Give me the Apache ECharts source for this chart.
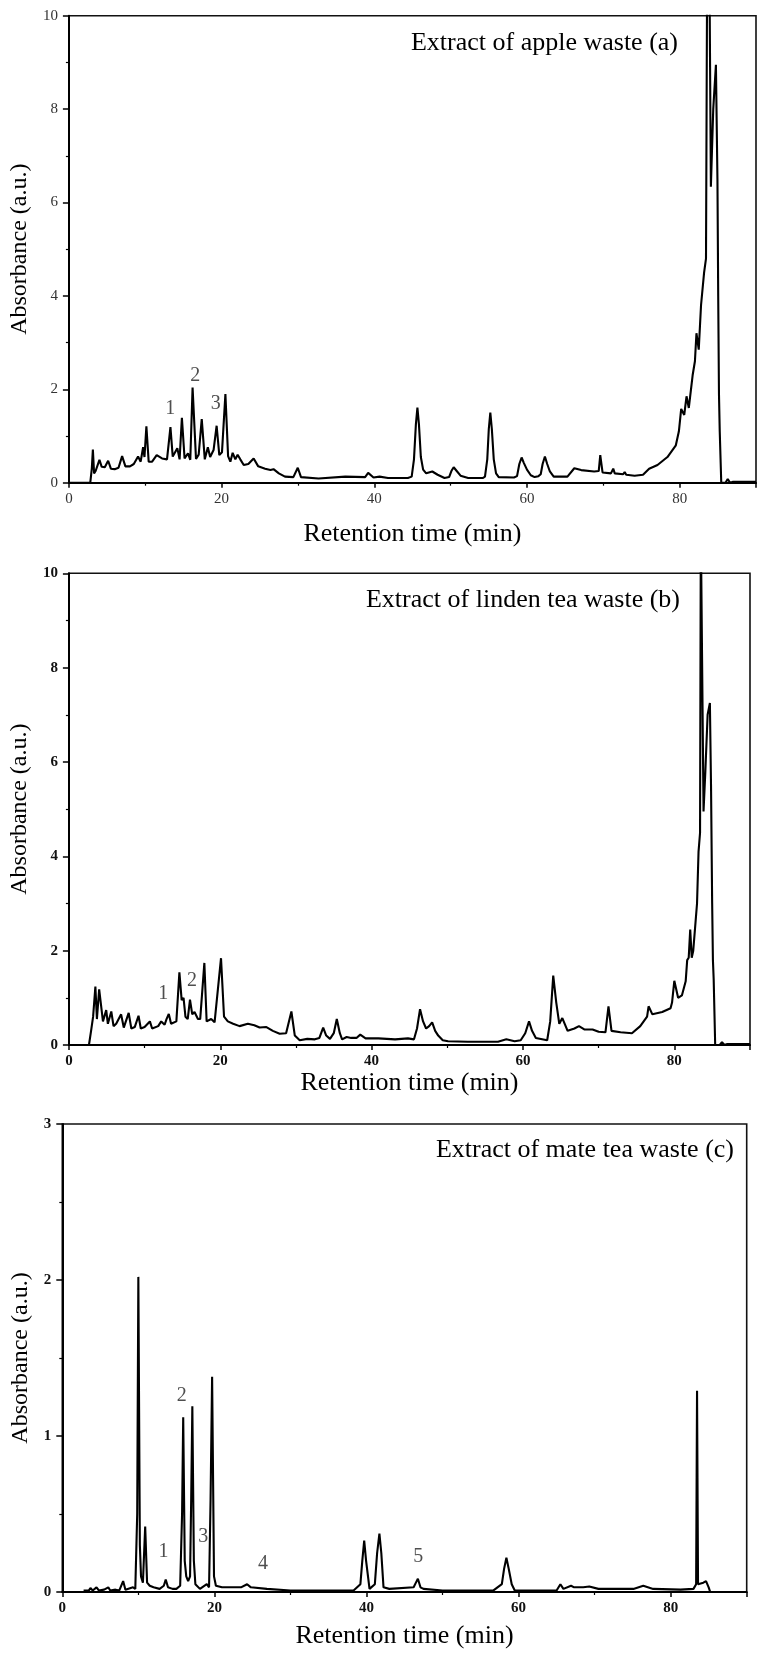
<!DOCTYPE html>
<html>
<head>
<meta charset="utf-8">
<title>HPLC chromatograms</title>
<script src="https://cdn.jsdelivr.net/npm/echarts@6.0.0/dist/echarts.min.js"></script>
<style>
    html, body {margin: 0; padding: 0; background: #fff;}
    #main {width: 760px; height: 1656px;}
</style>
</head>
<body>
<div id="main"></div>
<script>
    // retention time (min), absorbance (a.u.)
    var appleWaste = [
        [0, 0], [2.8, 0], [3.0, 0.3], [3.14, 0.71], [3.3, 0.2], [3.5, 0.25], [4.0, 0.49], [4.3, 0.34], [4.7, 0.33],
        [5.14, 0.47], [5.5, 0.3], [6.0, 0.29], [6.5, 0.32], [6.97, 0.57], [7.4, 0.35], [8.0, 0.35], [8.5, 0.4],
        [9.06, 0.56], [9.4, 0.45], [9.72, 0.76], [9.9, 0.55], [10.15, 1.21], [10.45, 0.45], [10.9, 0.45], [11.5, 0.59],
        [12.2, 0.52], [12.85, 0.5], [13.3, 1.19], [13.6, 0.56], [14.2, 0.74], [14.5, 0.5], [14.8, 1.39], [15.15, 0.52],
        [15.6, 0.63], [15.9, 0.49], [16.2, 2.04], [16.65, 0.51], [17.0, 0.6], [17.4, 1.36], [17.8, 0.5], [18.2, 0.76],
        [18.5, 0.55], [18.95, 0.7], [19.35, 1.22], [19.7, 0.59], [20.05, 0.65], [20.5, 1.9], [20.85, 0.57], [21.15, 0.45],
        [21.45, 0.64], [21.8, 0.5], [22.1, 0.6], [22.45, 0.5], [22.9, 0.38], [23.5, 0.4], [24.2, 0.52], [24.8, 0.35],
        [25.7, 0.3], [26.4, 0.27], [26.8, 0.29], [27.5, 0.2], [28.3, 0.13], [29.4, 0.12], [29.98, 0.32], [30.4, 0.12],
        [32.7, 0.09], [36.2, 0.13], [38.8, 0.12], [39.2, 0.21], [39.9, 0.11], [40.7, 0.13], [41.8, 0.1], [44.4, 0.1],
        [44.9, 0.13], [45.2, 0.5], [45.45, 1.25], [45.65, 1.61], [45.85, 1.25], [46.1, 0.55], [46.4, 0.28], [46.8, 0.2],
        [47.6, 0.24], [48.3, 0.17], [49.2, 0.1], [49.8, 0.12], [50.1, 0.25], [50.4, 0.33], [50.8, 0.25], [51.3, 0.15],
        [52.3, 0.1], [54.2, 0.1], [54.5, 0.13], [54.8, 0.5], [55.0, 1.15], [55.2, 1.5], [55.4, 1.15], [55.65, 0.5],
        [55.95, 0.2], [56.3, 0.12], [58.3, 0.11], [58.7, 0.14], [59.0, 0.4], [59.3, 0.54], [59.6, 0.42], [60.0, 0.28],
        [60.5, 0.16], [61.0, 0.12], [61.5, 0.14], [61.8, 0.18], [62.05, 0.4], [62.35, 0.56], [62.65, 0.4], [63.0, 0.24],
        [63.5, 0.13], [65.3, 0.13], [66.2, 0.31], [67.1, 0.27], [68.8, 0.24], [69.4, 0.25], [69.6, 0.59], [69.9, 0.22],
        [71.0, 0.2], [71.3, 0.3], [71.5, 0.2], [72.6, 0.18], [72.8, 0.23], [73.0, 0.17], [74.1, 0.15], [75.2, 0.17],
        [76.0, 0.3], [77.1, 0.38], [78.4, 0.55], [79.5, 0.8], [79.9, 1.1], [80.2, 1.58], [80.6, 1.45], [80.9, 1.85],
        [81.2, 1.6], [81.7, 2.3], [82.0, 2.6], [82.2, 3.2], [82.5, 2.85], [82.8, 3.8], [83.2, 4.5], [83.45, 4.8],
        [83.6, 11], [83.9, 11], [84.09, 6.34], [84.4, 8.0], [84.75, 8.95], [84.95, 6.5], [85.05, 4.0], [85.15, 1.9],
        [85.25, 1.1], [85.45, 0], [86.0, 0], [86.3, 0.08], [86.6, 0], [87.0, 0.02], [90, 0.02]
    ];
    var lindenWaste = [
        [0, 0], [2.65, 0], [2.95, 0.32], [3.2, 0.6], [3.5, 1.24], [3.7, 0.55], [4.0, 1.18], [4.2, 1.15], [4.5, 0.5],
        [4.93, 0.74], [5.15, 0.45], [5.6, 0.71], [5.9, 0.4], [6.25, 0.45], [6.9, 0.65], [7.25, 0.37], [7.9, 0.68],
        [8.25, 0.35], [8.7, 0.38], [9.2, 0.62], [9.5, 0.35], [10.0, 0.38], [10.7, 0.5], [11.0, 0.35], [11.8, 0.4],
        [12.2, 0.5], [12.65, 0.43], [12.9, 0.55], [13.2, 0.66], [13.5, 0.45], [14.2, 0.5], [14.6, 1.54], [14.9, 0.95],
        [15.15, 1.0], [15.4, 0.6], [15.7, 0.55], [16.0, 0.96], [16.3, 0.65], [16.6, 0.7], [17.05, 0.55], [17.35, 0.55],
        [17.9, 1.74], [18.2, 0.5], [18.8, 0.55], [19.25, 0.48], [20.1, 1.84], [20.5, 0.6], [21.0, 0.5], [21.7, 0.45],
        [22.55, 0.4], [23.65, 0.45], [24.5, 0.42], [25.2, 0.37], [26.1, 0.38], [26.95, 0.3], [27.85, 0.24], [28.7, 0.25],
        [29.4, 0.71], [29.85, 0.2], [30.5, 0.1], [31.5, 0.13], [32.5, 0.12], [33.1, 0.15], [33.6, 0.37], [34.0, 0.2],
        [34.5, 0.13], [35.0, 0.25], [35.4, 0.55], [35.8, 0.25], [36.1, 0.12], [36.7, 0.17], [37.3, 0.15], [38.0, 0.15],
        [38.5, 0.22], [39.2, 0.14], [40.9, 0.14], [43.1, 0.12], [44.8, 0.14], [45.6, 0.12], [46.0, 0.35], [46.4, 0.76],
        [46.8, 0.5], [47.2, 0.35], [47.6, 0.4], [48.0, 0.48], [48.4, 0.3], [48.8, 0.2], [49.4, 0.1], [50.1, 0.08],
        [52.7, 0.07], [56.7, 0.07], [57.8, 0.12], [58.9, 0.08], [59.7, 0.1], [60.3, 0.25], [60.8, 0.5], [61.2, 0.3],
        [61.7, 0.15], [63.2, 0.1], [63.6, 0.5], [64.0, 1.47], [64.4, 0.9], [64.8, 0.45], [65.2, 0.57], [65.9, 0.3],
        [66.8, 0.35], [67.4, 0.4], [68.1, 0.33], [69.2, 0.33], [70.0, 0.28], [70.9, 0.27], [71.3, 0.82], [71.7, 0.3],
        [72.9, 0.27], [74.4, 0.25], [75.5, 0.4], [76.4, 0.6], [76.6, 0.82], [77.1, 0.65], [78.4, 0.7], [79.5, 0.78],
        [79.7, 0.9], [80.0, 1.36], [80.5, 1.0], [81.0, 1.05], [81.5, 1.35], [81.7, 1.8], [81.9, 1.85], [82.1, 2.45],
        [82.3, 1.85], [82.5, 2.0], [82.8, 2.6], [83.0, 3.0], [83.2, 4.1], [83.4, 4.5], [83.5, 11], [83.75, 11],
        [83.86, 4.95], [84.1, 5.8], [84.4, 7.0], [84.7, 7.25], [84.85, 5.5], [85.0, 3.0], [85.1, 1.8], [85.2, 1.4],
        [85.4, 0], [86.0, 0], [86.3, 0.06], [86.6, 0], [87.0, 0.02], [90, 0.02]
    ];
    var mateWaste = [
        [2.8, 0.01], [3.5, 0.01], [3.7, 0.025], [4.0, 0.01], [4.5, 0.03], [4.8, 0.01], [5.5, 0.015], [6.05, 0.03],
        [6.3, 0.01], [7.0, 0.015], [7.5, 0.01], [8.0, 0.07], [8.3, 0.015], [9.3, 0.03], [9.6, 0.02], [9.85, 0.5],
        [10.0, 2.02], [10.2, 0.3], [10.35, 0.1], [10.6, 0.06], [10.9, 0.42], [11.15, 0.06], [11.5, 0.04], [12.0, 0.03],
        [12.8, 0.02], [13.35, 0.04], [13.6, 0.08], [13.9, 0.03], [14.5, 0.02], [15.0, 0.02], [15.5, 0.04], [15.75, 0.5],
        [15.9, 1.12], [16.1, 0.2], [16.3, 0.1], [16.55, 0.07], [16.8, 0.1], [16.95, 0.6], [17.1, 1.19], [17.3, 0.2],
        [17.5, 0.05], [18.1, 0.02], [19.0, 0.05], [19.3, 0.03], [19.5, 0.6], [19.7, 1.38], [19.95, 0.1], [20.2, 0.04],
        [21.0, 0.03], [22.5, 0.03], [23.5, 0.03], [24.3, 0.05], [24.8, 0.03], [26.9, 0.02], [30.0, 0.01], [34.0, 0.01],
        [38.3, 0.01], [39.2, 0.05], [39.45, 0.2], [39.7, 0.33], [39.95, 0.2], [40.4, 0.02], [41.1, 0.05], [41.4, 0.25],
        [41.7, 0.375], [41.95, 0.25], [42.24, 0.03], [43.0, 0.02], [46.2, 0.03], [46.5, 0.06], [46.76, 0.085],
        [47.1, 0.03], [47.5, 0.02], [50.0, 0.01], [56.7, 0.01], [57.8, 0.05], [58.1, 0.15], [58.4, 0.22], [58.7, 0.15],
        [59.1, 0.05], [59.5, 0.01], [65.0, 0.01], [65.5, 0.05], [65.9, 0.02], [66.9, 0.04], [67.3, 0.03], [68.5, 0.03],
        [69.3, 0.035], [70.5, 0.02], [75.1, 0.02], [76.4, 0.04], [77.7, 0.02], [81.3, 0.015], [83.0, 0.02],
        [83.35, 0.05], [83.47, 1.29], [83.6, 0.05], [84.3, 0.06], [84.65, 0.07], [85.0, 0.03], [85.2, 0]
    ];

    // peak numbers [time, absorbance, label]
    var appleMarks = [[13.28, 1.59, '1'], [16.55, 2.28, '2'], [19.25, 1.68, '3']];
    var lindenMarks = [[12.46, 1.08, '1'], [16.28, 1.36, '2']];
    var mateMarks = [[13.3, 0.255, '1'], [15.7, 1.26, '2'], [18.55, 0.355, '3'], [26.4, 0.18, '4'], [46.8, 0.225, '5']];

    var titles = ['Extract of apple waste (a)', 'Extract of linden tea waste (b)', 'Extract of mate tea waste (c)'];
    var yMax = [10, 10, 3];
    var yStep = [2, 2, 1];

    var serif = '"Liberation Serif", "Times New Roman", serif';
    var grids = [
        {left: 66.7, top: 15.7, width: 689.3, height: 467},
        {left: 66.5, top: 573.3, width: 683.5, height: 471.7},
        {left: 62.3, top: 1124, width: 684.4, height: 468}
    ];
    var xNameGap = [38, 22, 31];
    var yNameGap = [29, 29, 23];
    var boldTicks = [false, true, true];

    var xAxes = [], yAxes = [], series = [];
    var traces = [appleWaste, lindenWaste, mateWaste];
    var marks = [appleMarks, lindenMarks, mateMarks];

    for (var i = 0; i < 3; i++) {
        grids[i].show = true;
        grids[i].borderColor = '#111';
        grids[i].borderWidth = 1.6;
        var tickLabel = {
            fontFamily: serif, fontSize: 15,
            fontWeight: boldTicks[i] ? 'bold' : 'normal',
            color: boldTicks[i] ? '#111' : '#333'
        };
        xAxes.push({
            type: 'value', gridIndex: i, min: 0, max: 90, interval: 20,
            name: 'Retention time (min)', nameLocation: 'middle', nameGap: xNameGap[i],
            nameTextStyle: {fontFamily: serif, fontSize: 26, color: '#000'},
            axisLine: {show: true, onZero: false, lineStyle: {color: '#000', width: 2}},
            axisTick: {show: true, length: 5, lineStyle: {color: '#000', width: 1.5}},
            minorTick: {show: true, splitNumber: 2, length: 3, lineStyle: {color: '#000', width: 1.2}},
            splitLine: {show: false},
            axisLabel: Object.assign({margin: 9, showMaxLabel: false}, tickLabel)
        });
        yAxes.push({
            type: 'value', gridIndex: i, min: 0, max: yMax[i], interval: yStep[i],
            name: 'Absorbance (a.u.)', nameLocation: 'middle', nameGap: yNameGap[i], nameRotate: 90,
            nameTextStyle: {fontFamily: serif, fontSize: 24, color: '#000'},
            axisLine: {show: true, onZero: false, lineStyle: {color: '#000', width: 2}},
            axisTick: {show: true, length: 6, lineStyle: {color: '#000', width: 1.5}},
            minorTick: {show: true, splitNumber: 2, length: 3, lineStyle: {color: '#000', width: 1.2}},
            splitLine: {show: false},
            axisLabel: Object.assign({margin: 11}, tickLabel)
        });
        series.push({
            type: 'line', xAxisIndex: i, yAxisIndex: i, data: traces[i],
            showSymbol: false, clip: true,
            lineStyle: {color: '#000', width: 2.1},
            emphasis: {disabled: true}
        });
        series.push({
            type: 'scatter', xAxisIndex: i, yAxisIndex: i, data: marks[i],
            symbolSize: 1, itemStyle: {color: 'rgba(0,0,0,0)'},
            label: {
                show: true, position: 'inside', fontFamily: serif, fontSize: 20, color: '#222',
                formatter: function (p) { return p.data[2]; }
            }
        });
    }

    // panel captions
    var captionPos = [[678, 43], [680, 600], [734, 1150]];
    var graphics = [];
    for (var k = 0; k < 3; k++) {
        graphics.push({
            type: 'text', x: captionPos[k][0], y: captionPos[k][1],
            style: {text: titles[k], font: '26px ' + serif, fill: '#000', align: 'right', verticalAlign: 'middle'}
        });
    }

    var chart = echarts.init(document.getElementById('main'));
    chart.setOption({
        animation: false,
        backgroundColor: '#fff',
        grid: grids,
        xAxis: xAxes,
        yAxis: yAxes,
        series: series,
        graphic: graphics
    });
</script>
</body>
</html>
